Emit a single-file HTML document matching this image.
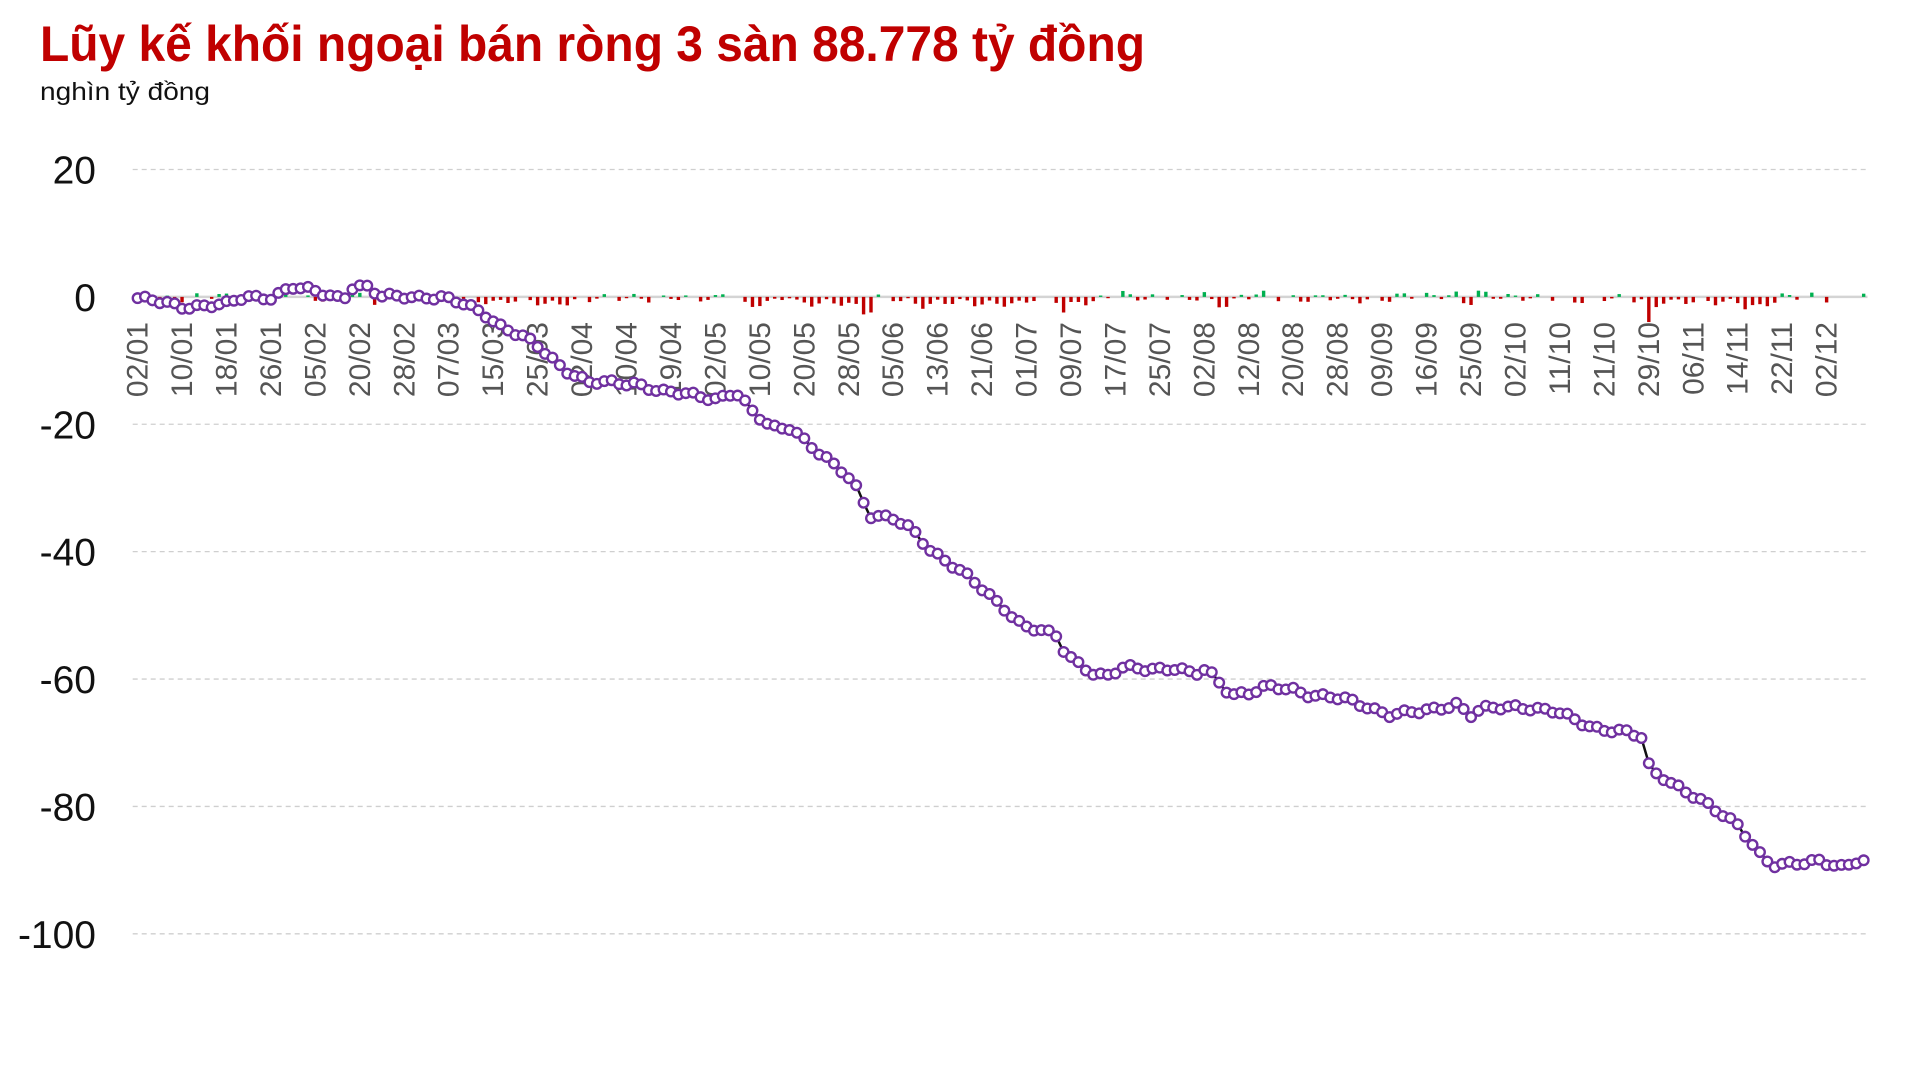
<!DOCTYPE html>
<html><head><meta charset="utf-8"><style>
html,body{margin:0;padding:0;background:#fff;width:1924px;height:1088px;overflow:hidden}
svg text{font-family:"Liberation Sans",sans-serif}
</style></head><body>
<svg id="s" width="1924" height="1088" xmlns="http://www.w3.org/2000/svg">
<text x="40" y="61" font-size="50" font-weight="bold" fill="#c00000" textLength="1105" lengthAdjust="spacingAndGlyphs">Lũy kế khối ngoại bán ròng 3 sàn 88.778 tỷ đồng</text>
<text x="40" y="100" font-size="25" fill="#111" textLength="170" lengthAdjust="spacingAndGlyphs">nghìn tỷ đồng</text>
<g id="g"></g>
</svg>
<script>
var NS="http://www.w3.org/2000/svg",g=document.getElementById("g");
function el(t,a,txt){var e=document.createElementNS(NS,t);for(var k in a)e.setAttribute(k,a[k]);if(txt!=null)e.textContent=txt;g.appendChild(e);return e;}
var X0=137.6,DX=7.408,Y0=296.9,PY=6.369,xl=132.7,xr=1867.5;
function Y(v){return Y0-v*PY;}
[20,-20,-40,-60,-80,-100].forEach(function(v){el("line",{x1:xl,x2:xr,y1:Y(v),y2:Y(v),stroke:"#cfcfcf","stroke-width":1.3,"stroke-dasharray":"5,4"});});
[20,0,-20,-40,-60,-80,-100].forEach(function(v){el("text",{x:96,y:Y(v)+14,"font-size":39,"text-anchor":"end",fill:"#111"},String(v));});
el("line",{x1:xl,x2:xr,y1:Y0,y2:Y0,stroke:"#d4d4d4","stroke-width":2.5});
var kp=[[112,-0.2],[148,-1.5],[185,-1.2],[200,0],[222,0],[238,1.5],[258,0.8],[280,-0.2],[288,1.7],[300,1.4],[310,0],[330,0.2],[360,-0.2],[380,-1.2],[395,-2.5],[410,-4.8],[430,-6.7],[440,-7.9],[460,-11.2],[480,-13.5],[520,-13.5],[540,-15],[570,-15.4],[585,-16],[600,-15],[615,-18.3],[630,-20.4],[645,-20.4],[670,-25],[690,-27.6],[700,-30],[710,-34.3],[730,-35],[745,-36.6],[760,-39.7],[790,-44],[820,-48.8],[835,-51.7],[862,-53.2],[870,-56],[895,-59.4],[905,-59.6],[918,-58.2],[960,-58.4],[975,-59.4],[985,-58.4],[1005,-62.3],[1020,-62.3],[1035,-61.3],[1055,-61.5],[1070,-62.5],[1100,-63.3],[1115,-64.2],[1135,-65.6],[1160,-65.2],[1190,-63.8],[1200,-65.8],[1210,-64.8],[1240,-64.2],[1270,-65.2],[1300,-67.5],[1330,-68.5],[1342,-69.4],[1347,-74.4],[1357,-75.2],[1380,-78.1],[1400,-80.6],[1420,-82.9],[1440,-88.3],[1450,-89.5],[1470,-88.9],[1485,-88.3],[1505,-89.7],[1517,-88.7]];
var N=234,vals=[];
for(var i=0;i<N;i++){var xd=112+i*6.05,v=kp[kp.length-1][1];
 for(var k=0;k<kp.length-1;k++){if(xd>=kp[k][0]&&xd<=kp[k+1][0]){var t=(xd-kp[k][0])/(kp[k+1][0]-kp[k][0]);v=kp[k][1]+t*(kp[k+1][1]-kp[k][1]);break;}}
 v+=0.35*Math.sin(i*1.7)+0.2*Math.sin(i*0.63);vals.push(v);}
for(var i=1;i<N;i++){var d=vals[i]-vals[i-1];if(Math.abs(d)<0.2)continue;var x=X0+i*DX-1.7,h=Math.abs(d)*PY;
 el("rect",{x:x,y:d>0?Y0-h:Y0,width:3.4,height:h,fill:d>0?"#00b050":"#c00000"});}
var labs=["02/01","10/01","18/01","26/01","05/02","20/02","28/02","07/03","15/03","25/03","02/04","10/04","19/04","02/05","10/05","20/05","28/05","05/06","13/06","21/06","01/07","09/07","17/07","25/07","02/08","12/08","20/08","28/08","09/09","16/09","25/09","02/10","11/10","21/10","29/10","06/11","14/11","22/11","02/12"];
labs.forEach(function(l,j){var x=X0+j*6*DX+10,y=322;el("text",{x:x,y:y,"font-size":30,fill:"#555","text-anchor":"end",transform:"rotate(-90 "+x+" "+y+")"},l);});
var p="";for(var i=0;i<N;i++)p+=(i?"L":"M")+(X0+i*DX).toFixed(1)+","+Y(vals[i]).toFixed(1);
el("path",{d:p,fill:"none",stroke:"#111","stroke-width":2.5});
for(var i=0;i<N;i++)el("circle",{cx:X0+i*DX,cy:Y(vals[i]),r:4.8,fill:"#fff",stroke:"#7030a0","stroke-width":2.4});
</script>
</body></html>
